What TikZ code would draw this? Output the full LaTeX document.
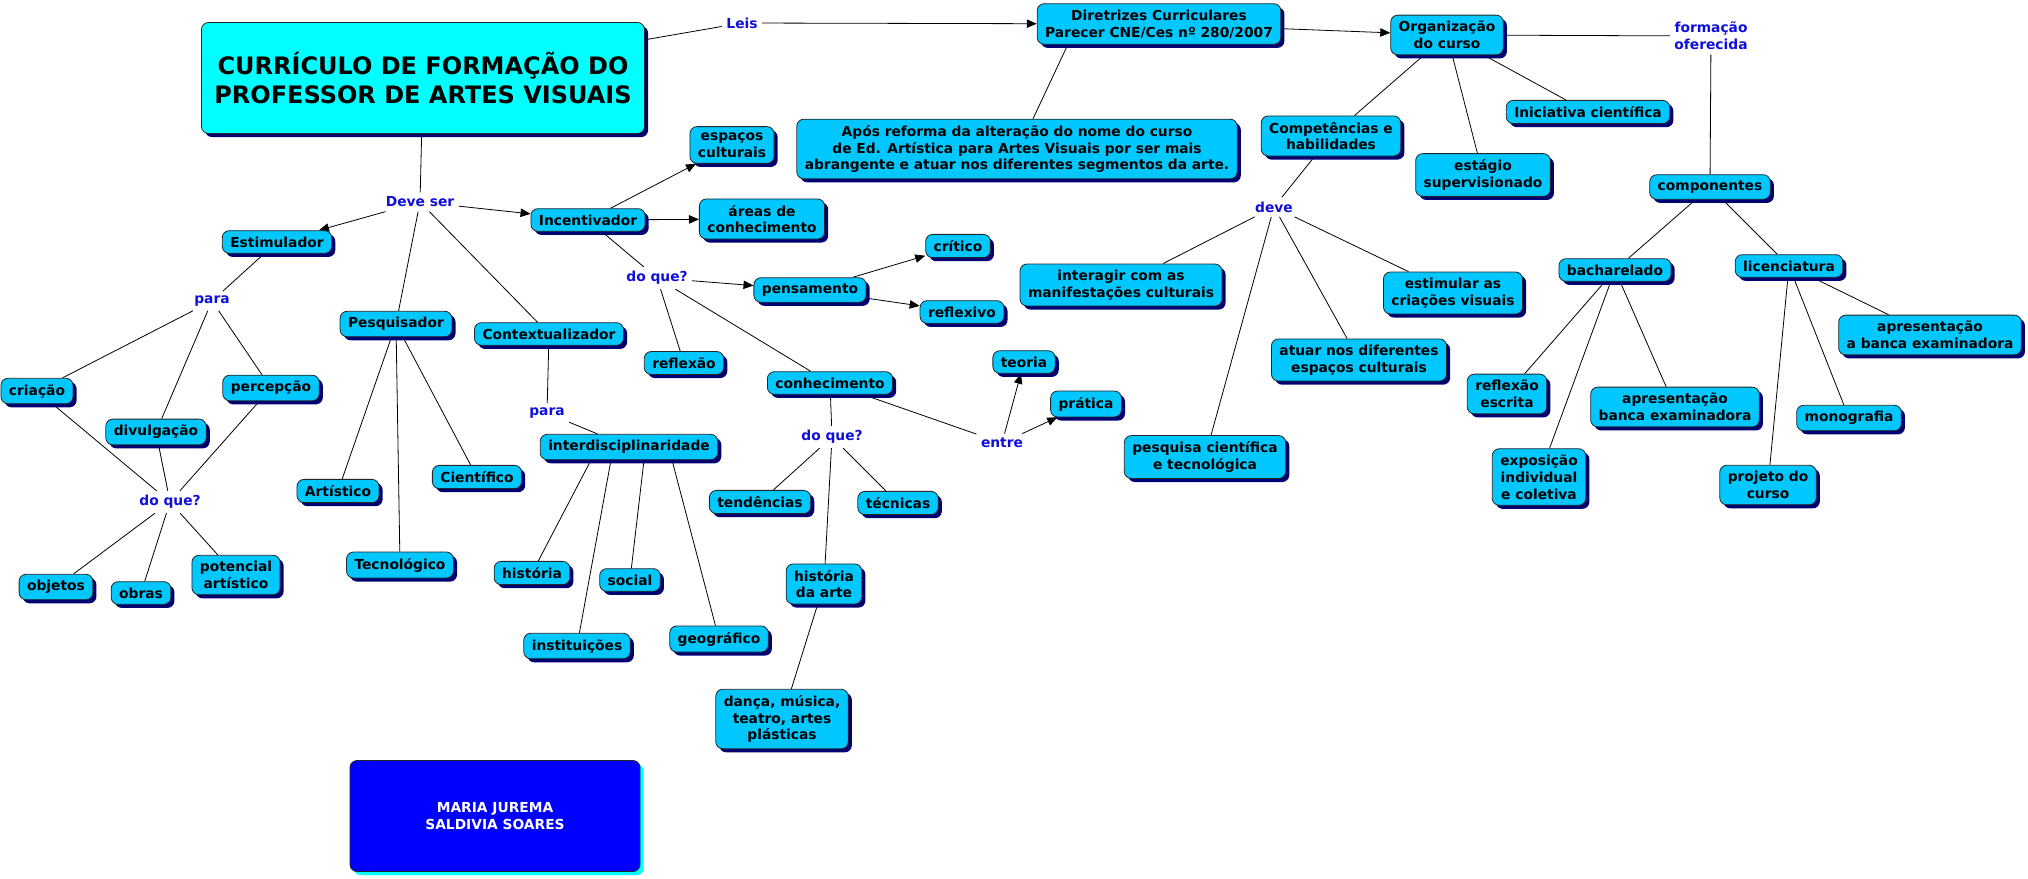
\documentclass[tikz,border=0pt]{standalone}
\usepackage{fontspec}
\setmainfont{DejaVu Sans}
\usetikzlibrary{arrows.meta,shadows,backgrounds}
\definecolor{cell}{HTML}{00C8FF}
\definecolor{headcell}{HTML}{00FFFF}
\definecolor{shade}{HTML}{000073}
\definecolor{linkblue}{HTML}{0F0FDC}
\definecolor{signbox}{HTML}{0000FF}

\begin{document}
\begin{tikzpicture}[x=0.5pt,y=-0.5pt,line width=.5pt,
  font=\bfseries\fontsize{6.9}{8.4}\selectfont,
  >={Triangle[length=5pt,width=4.2pt]},
  bubble/.style={draw=black!85,line width=.4pt,rounded corners=3.5pt,
    align=center,inner xsep=4pt,inner ysep=3pt},
  shadowed/.style={drop shadow={shadow xshift=1.8pt,shadow yshift=-1.8pt,
    fill=#1,opacity=1}},
  concept/.style={bubble,fill=cell,shadowed=shade},
  lnk/.style={text=linkblue,align=center,inner sep=2pt}]
  \useasboundingbox (0,0) rectangle (2028,878);

  % title and laws
  \node[bubble,fill=headcell,shadowed=shade,minimum width=221.5pt,
    minimum height=55.5pt,font=\bfseries\fontsize{12}{14.7}\selectfont]
    (title) at (423,78) {CURRÍCULO DE FORMAÇÃO DO\\PROFESSOR DE ARTES VISUAIS};
  \node[lnk] (leis) at (742,23) {Leis};
  \node[concept] (direc) at (1159,24)
    {Diretrizes Curriculares\\Parecer CNE/Ces nº 280/2007};
  \node[concept] (apos) at (1017,149)
    {Após reforma da alteração do nome do curso\\
     de Ed. Artística para Artes Visuais por ser mais\\
     abrangente e atuar nos diferentes segmentos da arte.};
  \node[concept] (org) at (1447,35) {Organização\\do curso};
  \node[lnk] (oferta) at (1711,36) {formação\\oferecida};
  \node[concept] (inicia) at (1588,112) {Iniciativa científica};
  \node[concept] (estagio) at (1483,175) {estágio\\supervisionado};
  \node[concept] (compet) at (1331,136) {Competências e\\habilidades};
  \node[lnk] (deve) at (1274,207) {deve};
  \node[concept] (interagir) at (1121,285)
    {interagir com as\\manifestações culturais};
  \node[concept] (estimular) at (1453,293) {estimular as\\criações visuais};
  \node[concept] (atuar) at (1359,360)
    {atuar nos diferentes\\espaços culturais};
  \node[concept] (pesquisa) at (1205,457)
    {pesquisa científica\\e tecnológica};

  % course components
  \node[concept] (compo) at (1710,187) {componentes};
  \node[concept] (bach) at (1615,270) {bacharelado};
  \node[concept] (lic) at (1789,266) {licenciatura};
  \node[concept] (reflesc) at (1507,394) {reflexão\\escrita};
  \node[concept] (expo) at (1539,477) {exposição\\individual\\e coletiva};
  \node[concept] (banca) at (1675,407) {apresentação\\banca examinadora};
  \node[concept] (projeto) at (1768,485) {projeto do\\curso};
  \node[concept] (mono) at (1849,418) {monografia};
  \node[concept] (abanca) at (1930,335)
    {apresentação\\a banca examinadora};

  % the teacher
  \node[lnk] (deveser) at (420,202) {Deve ser};
  \node[concept] (estim) at (277,242) {Estimulador};
  \node[concept] (incent) at (588,220) {Incentivador};
  \node[concept] (espacos) at (732,145) {espaços\\culturais};
  \node[concept] (areas) at (762,219) {áreas de\\conhecimento};
  \node[lnk] (oque1) at (657,278) {do que?};
  \node[concept] (pensa) at (810,290) {pensamento};
  \node[concept] (critico) at (958,246) {crítico};
  \node[concept] (reflexivo) at (962,312) {reflexivo};
  \node[concept] (reflexao) at (684,363) {reflexão};
  \node[concept] (conhec) at (830,383) {conhecimento};
  \node[lnk] (oque2) at (832,437) {do que?};
  \node[lnk] (entre) at (1002,443) {entre};
  \node[concept] (teoria) at (1024,362) {teoria};
  \node[concept] (pratica) at (1086,404) {prática};
  \node[concept] (tend) at (760,502) {tendências};
  \node[concept] (tecn) at (898,503) {técnicas};
  \node[concept] (histarte) at (824,584) {história\\da arte};
  \node[concept] (danca) at (782,719)
    {dança, música,\\teatro, artes\\plásticas};

  \node[concept] (pesq) at (396,324) {Pesquisador};
  \node[concept] (artis) at (338,491) {Artístico};
  \node[concept] (cienti) at (477,477) {Científico};
  \node[concept] (tecno) at (400,565) {Tecnológico};
  \node[concept] (context) at (549,334) {Contextualizador};
  \node[lnk] (para2) at (547,413) {para};
  \node[concept] (interd) at (629,447) {interdisciplinaridade};
  \node[concept] (hist) at (532,573) {história};
  \node[concept] (social) at (630,580) {social};
  \node[concept] (inst) at (577,646) {instituições};
  \node[concept] (geo) at (719,639) {geográfico};

  \node[lnk] (para1) at (212,301) {para};
  \node[concept] (criacao) at (37,391) {criação};
  \node[concept] (percep) at (271,388) {percepção};
  \node[concept] (divulg) at (156,432) {divulgação};
  \node[lnk] (oque3) at (170,502) {do que?};
  \node[concept] (objetos) at (56,587) {objetos};
  \node[concept] (obras) at (141,593) {obras};
  \node[concept] (potenc) at (236,575) {potencial\\artístico};

  \node[bubble,fill=signbox,text=white,shadowed=headcell,
    minimum width=145pt,minimum height=55.5pt]
    (autor) at (495,816) {MARIA JUREMA\\SALDIVIA SOARES};

  \begin{scope}[on background layer]
    \foreach \a/\b in {title/leis,org/oferta,oferta/compo,
        org/compet,org/estagio,org/inicia,compet/deve,deve/interagir,
        deve/pesquisa,deve/atuar,deve/estimular,compo/bach,compo/lic,
        bach/reflesc,bach/expo,bach/banca,lic/projeto,lic/mono,lic/abanca,
        title/deveser,deveser/pesq,deveser/context,incent/oque1,
        oque1/reflexao,oque1/conhec,conhec/oque2,conhec/entre,oque2/tend,
        oque2/tecn,oque2/histarte,histarte/danca,pesq/artis,pesq/tecno,
        pesq/cienti,context/para2,para2/interd,estim/para1,para1/criacao,
        para1/divulg,para1/percep,criacao/oque3,divulg/oque3,percep/oque3,
        oque3/objetos,oque3/obras,oque3/potenc}
      \draw (\a) -- (\b);
    \draw ([xshift=15.5pt]direc.south west) -- ([xshift=8pt]apos.north);
    \foreach \b/\s in {hist/-19pt,inst/-9pt,social/7.5pt,geo/21.5pt}
      \draw ([xshift=\s]interd.south) -- (\b);
    \foreach \a/\b in {leis/direc,direc/org,deveser/estim,deveser/incent,
        incent/espacos,incent/areas,oque1/pensa,pensa/critico,
        pensa/reflexivo,entre/teoria,entre/pratica}
      \draw[->] (\a) -- (\b);
  \end{scope}
\end{tikzpicture}
\end{document}
